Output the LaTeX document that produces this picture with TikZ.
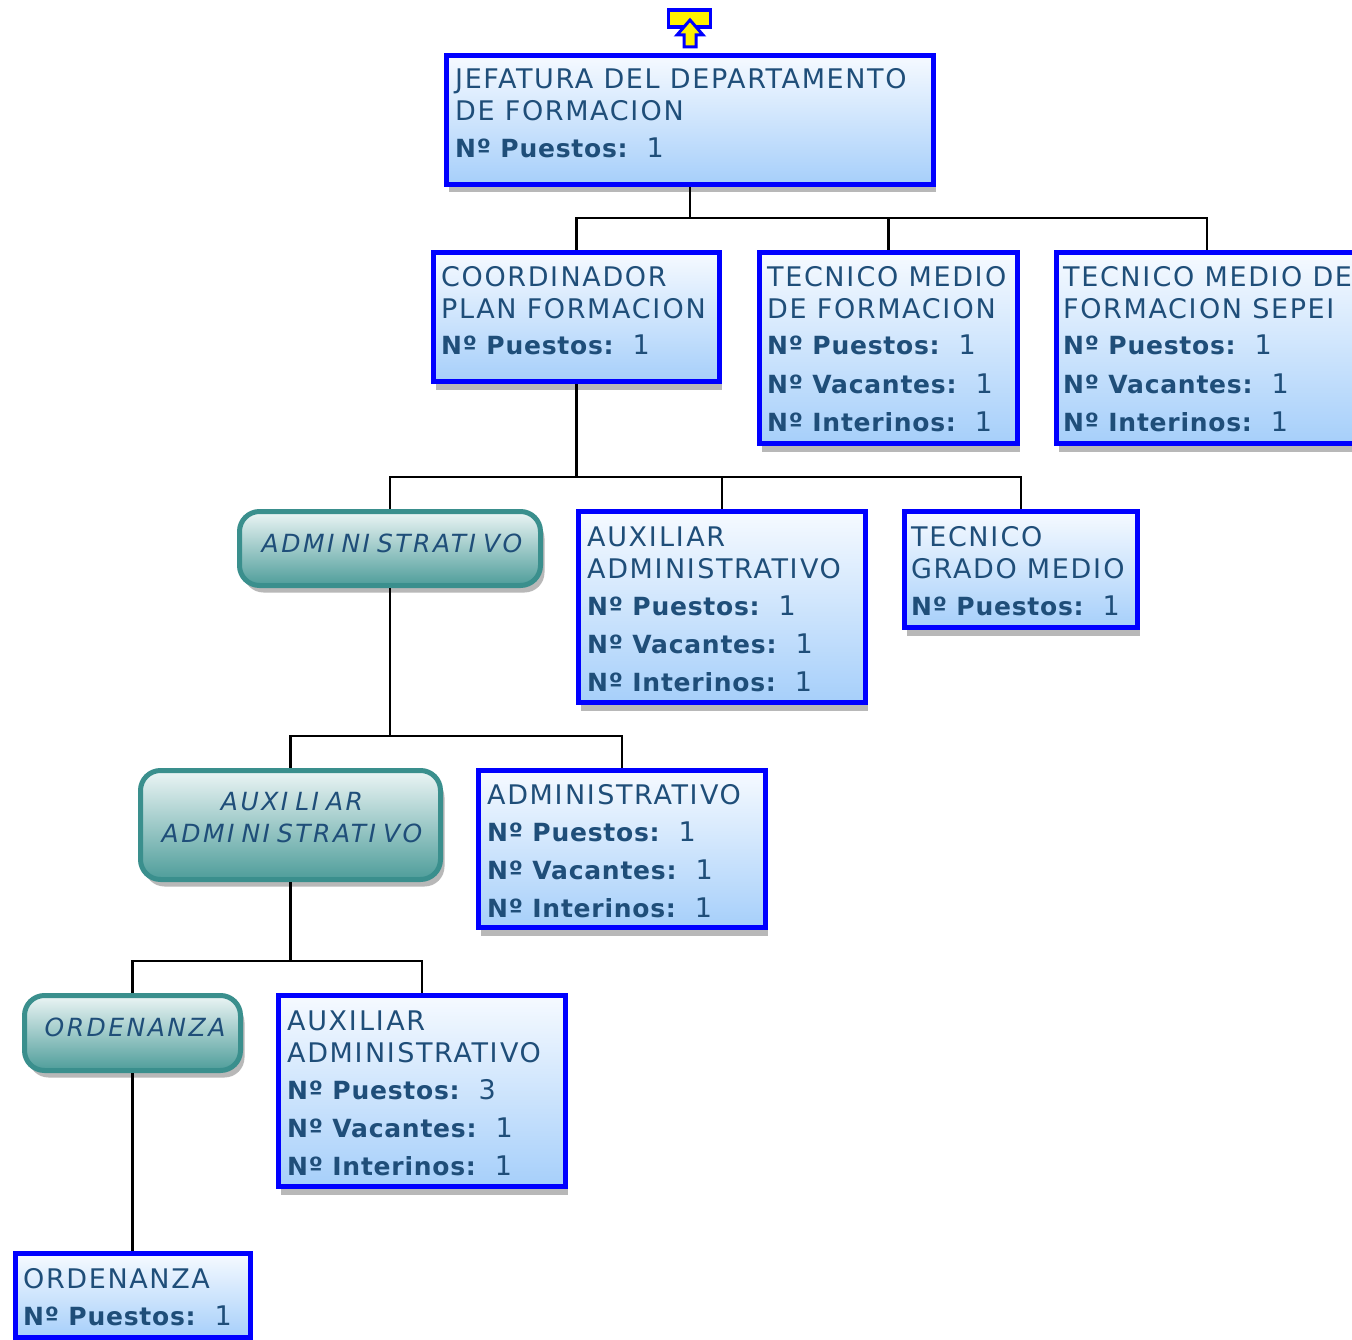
\documentclass[tikz,border=0pt]{standalone}
\usepackage{fontspec}
\setmainfont{DejaVu Sans}
\newfontfamily\rfont{DejaVu Sans}[LetterSpace=6]
\newfontfamily\tfont{DejaVu Sans}[LetterSpace=10]
\newfontfamily\bfnt{DejaVu Sans}[LetterSpace=3]
\usetikzlibrary{shadows}
\definecolor{txtblue}{RGB}{31,78,121}
\definecolor{bborder}{RGB}{0,0,255}
\definecolor{btop}{RGB}{246,250,255}
\definecolor{bbot}{RGB}{166,207,250}
\definecolor{tborder}{RGB}{58,143,141}
\definecolor{ttop}{RGB}{236,245,245}
\definecolor{tbot}{RGB}{78,157,154}
\definecolor{shadowc}{RGB}{184,184,184}
\newcommand\Ig{I\kern2.5pt\relax}
\newcommand\Ih{I\kern7pt\relax}
\newcommand\fd[5]{\node[fld] (#1) at (#2,#3) {{\bfnt\bfseries\fontsize{25}{30}\selectfont #4}\hspace{19pt}#5};}
\newcommand\tl[4]{\node[ttl] (#1) at (#2,#3) {#4};}
\begin{document}
\begin{tikzpicture}[x=1pt,y=-1pt,
 bluebox/.style={draw=bborder, line width=5pt, top color=btop, bottom color=bbot, inner sep=0pt,
   general shadow={fill=shadowc, shadow xshift=2pt, shadow yshift=-8pt}},
 tealbox/.style={draw=tborder, line width=5pt, rounded corners=20pt, top color=ttop, bottom color=tbot, inner sep=0pt,
   general shadow={fill=shadowc, shadow xshift=4pt, shadow yshift=-7pt}},
 ttl/.style={anchor=base west, inner sep=0pt, text=txtblue, font=\rfont\fontsize{27}{32}\selectfont},
 fld/.style={anchor=base west, inner sep=0pt, text=txtblue, font=\fontsize{27}{32}\selectfont},
 tt/.style={anchor=base, inner sep=0pt, text=txtblue, font=\tfont\itshape\fontsize{25}{30}\selectfont},
 conn/.style={line width=2.5pt, draw=black}
]
\clip (0,0) rectangle (1352,1340);
\fill[white] (0,0) rectangle (1352,1340);

% boxes
\node[bluebox, minimum width=487pt, minimum height=129pt] (top) at (690,120) {};
\node[bluebox, minimum width=286pt, minimum height=129pt] (coord) at (576.5,317) {};
\node[bluebox, minimum width=258pt, minimum height=191pt] (tm) at (888.5,348) {};
\node[bluebox, minimum width=301pt, minimum height=191pt] (sepei) at (1207,348) {};
\node[tealbox, minimum width=301pt, minimum height=74pt] (gadm) at (390,548.5) {};
\node[bluebox, minimum width=287pt, minimum height=191pt] (aux1) at (722,607) {};
\node[bluebox, minimum width=233pt, minimum height=116pt] (tgm) at (1021,569.5) {};
\node[tealbox, minimum width=300pt, minimum height=109pt] (gaux) at (290.5,825) {};
\node[bluebox, minimum width=287pt, minimum height=157pt] (adm) at (622,849) {};
\node[tealbox, minimum width=216pt, minimum height=75pt] (gord) at (132.5,1033) {};
\node[bluebox, minimum width=287pt, minimum height=191pt] (aux2) at (422,1091) {};
\node[bluebox, minimum width=235pt, minimum height=84pt] (ord) at (132.5,1295.5) {};

% connectors
\coordinate (b1) at (0,218);
\coordinate (b2) at (0,477);
\coordinate (b3) at (0,736);
\coordinate (b4) at (0,961);
\draw[conn] (top.south) -- (top.south |- b1) -| (coord.north);
\draw[conn] (top.south |- b1) -| (tm.north);
\draw[conn] (top.south |- b1) -| (sepei.north);
\draw[conn] (coord.south) -- (coord.south |- b2) -| (gadm.north);
\draw[conn] (coord.south |- b2) -| (aux1.north);
\draw[conn] (coord.south |- b2) -| (tgm.north);
\draw[conn] (gadm.south) -- (gadm.south |- b3) -| (gaux.north);
\draw[conn] (gadm.south |- b3) -| (adm.north);
\draw[conn] (gaux.south) -- (gaux.south |- b4) -| (gord.north);
\draw[conn] (gaux.south |- b4) -| (aux2.north);
\draw[conn] (gord.south) -- (ord.north);

% top icon
\node[draw=bborder, fill=yellow, line width=3.5pt, minimum width=42pt, minimum height=17pt, inner sep=0pt] (icon) at (689.5,18.5) {};
\draw[draw=bborder, fill=yellow, line width=3pt, line join=miter] (690,20) -- (703,35) -- (696,35) -- (696,47) -- (684,47) -- (684,35) -- (677,35) -- cycle;

% texts
\tl{t1}{455}{89}{JEFATURA DEL DEPARTAMENTO}
\tl{t2}{455}{121}{DE FORMAC\Ig ON}
\fd{t3}{455}{158}{Nº Puestos:}{1}

\tl{c1}{441}{287}{COORD\Ig NADOR}
\tl{c2}{441}{319}{PLAN FORMAC\Ig ON}
\fd{c3}{441}{355}{Nº Puestos:}{1}

\tl{m1}{767}{287}{TECN\Ig CO MED\Ig O}
\tl{m2}{767}{319}{DE FORMAC\Ig ON}
\fd{m3}{767}{355}{Nº Puestos:}{1}
\fd{m4}{767}{393}{Nº Vacantes:}{1}
\fd{m5}{767}{431}{Nº Interinos:}{1}

\tl{s1}{1063}{287}{TECN\Ig CO MED\Ig O DE}
\tl{s2}{1063}{319}{FORMAC\Ig ON SEPEI}
\fd{s3}{1063}{355}{Nº Puestos:}{1}
\fd{s4}{1063}{393}{Nº Vacantes:}{1}
\fd{s5}{1063}{431}{Nº Interinos:}{1}

\node[tt] (ga1) at (392,552) {ADM\Ih N\Ih STRAT\Ih VO};

\tl{a1}{587}{546}{AUX\Ig L\Ig AR}
\tl{a2}{587}{578}{ADM\Ig N\Ig STRAT\Ig VO}
\fd{a3}{587}{615}{Nº Puestos:}{1}
\fd{a4}{587}{653}{Nº Vacantes:}{1}
\fd{a5}{587}{691}{Nº Interinos:}{1}

\tl{g1}{911}{546}{TECN\Ig CO}
\tl{g2}{911}{578}{GRADO MED\Ig O}
\fd{g3}{911}{615}{Nº Puestos:}{1}

\node[tt] (gx1) at (292,810) {AUX\Ih L\Ih AR};
\node[tt] (gx2) at (292,842) {ADM\Ih N\Ih STRAT\Ih VO};

\tl{d1}{487}{804}{ADM\Ig N\Ig STRAT\Ig VO}
\fd{d2}{487}{841}{Nº Puestos:}{1}
\fd{d3}{487}{879}{Nº Vacantes:}{1}
\fd{d4}{487}{917}{Nº Interinos:}{1}

\node[tt] (go1) at (135,1036) {ORDENANZA};

\tl{x1}{287}{1030}{AUX\Ig L\Ig AR}
\tl{x2}{287}{1062}{ADM\Ig N\Ig STRAT\Ig VO}
\fd{x3}{287}{1099}{Nº Puestos:}{3}
\fd{x4}{287}{1137}{Nº Vacantes:}{1}
\fd{x5}{287}{1175}{Nº Interinos:}{1}

\tl{o1}{23}{1288}{ORDENANZA}
\fd{o2}{23}{1325}{Nº Puestos:}{1}
\end{tikzpicture}
\end{document}
